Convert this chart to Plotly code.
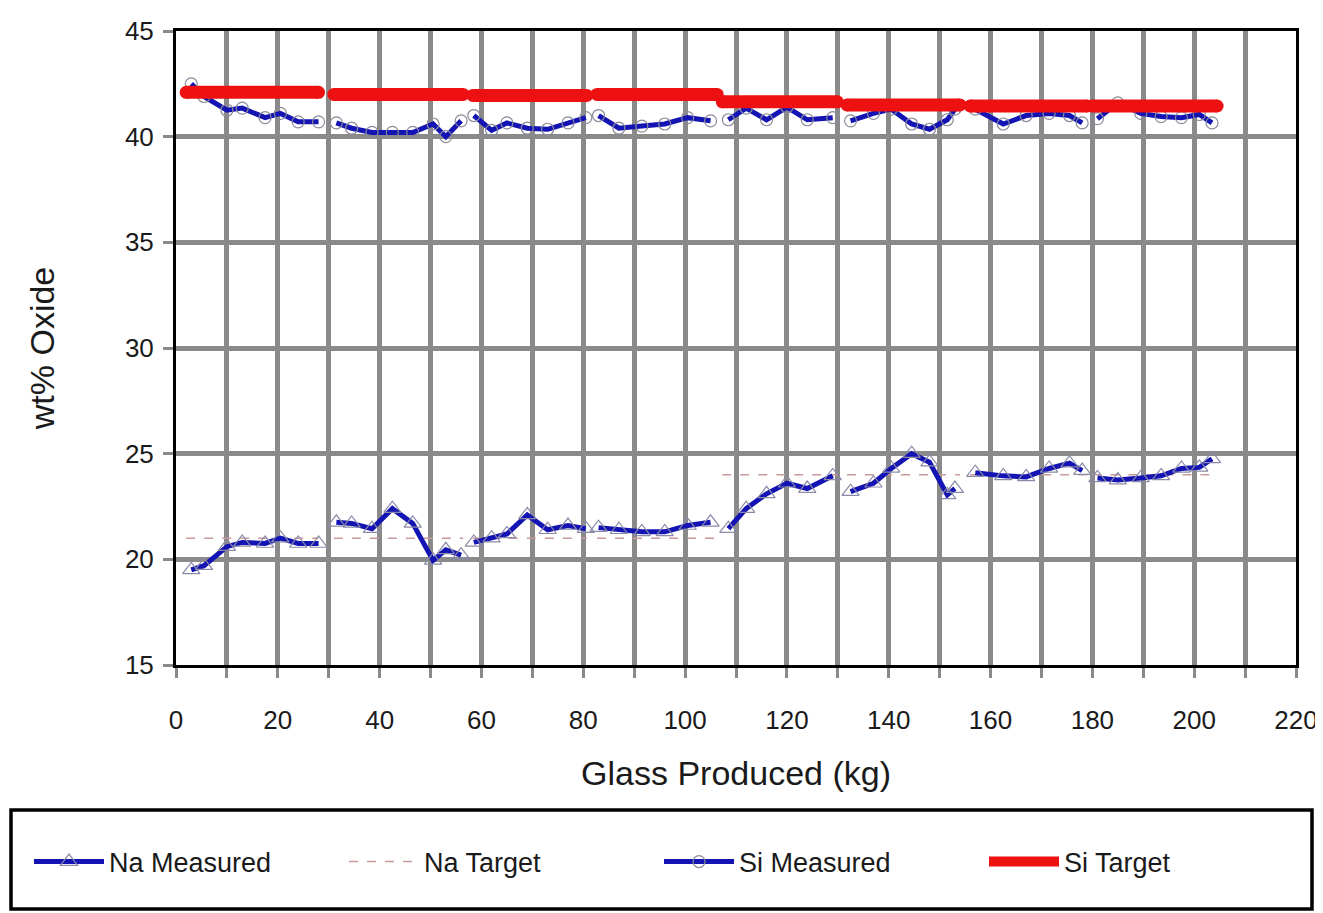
import plotly.graph_objects as go

# Measured data (None separates production batches)
x_kg = [3, 5.5, 10, 13, 17.5, 20.5, 24, 28, None,
        31.5, 34.5, 38.5, 42.5, 46.5, 50.5, 53, 56, None,
        58.5, 62, 65, 69, 73, 77, 80.5, None,
        83, 87, 91.5, 96, 100.5, 105, None,
        108.5, 112, 116, 120, 124, 129, None,
        132.5, 137, 140.5, 144.5, 148, 151.5, 153, None,
        157, 162.5, 167, 171.5, 175.5, 178, None,
        181, 185, 189.5, 193.5, 197.5, 201, 203.5]
si_measured = [42.5, 41.9, 41.25, 41.35, 40.9, 41.1, 40.7, 40.7, None,
               40.65, 40.4, 40.2, 40.2, 40.2, 40.6, 40.0, 40.75, None,
               41.0, 40.3, 40.65, 40.4, 40.35, 40.65, 40.9, None,
               41.0, 40.4, 40.5, 40.6, 40.9, 40.75, None,
               40.8, 41.35, 40.8, 41.4, 40.8, 40.9, None,
               40.75, 41.1, 41.3, 40.6, 40.35, 40.8, 41.3, None,
               41.3, 40.6, 41.0, 41.1, 41.0, 40.65, None,
               40.85, 41.6, 41.1, 40.95, 40.9, 41.05, 40.65]
na_measured = [19.5, 19.7, 20.6, 20.8, 20.75, 21.0, 20.75, 20.75, None,
               21.75, 21.7, 21.45, 22.4, 21.7, 19.95, 20.45, 20.2, None,
               20.8, 21.0, 21.2, 22.1, 21.4, 21.6, 21.45, None,
               21.5, 21.4, 21.3, 21.3, 21.6, 21.75, None,
               21.45, 22.4, 23.1, 23.6, 23.35, 23.95, None,
               23.2, 23.6, 24.3, 25.0, 24.6, 23.05, 23.35, None,
               24.1, 23.95, 23.9, 24.3, 24.55, 24.2, None,
               23.85, 23.75, 23.85, 23.95, 24.3, 24.35, 24.75]

# Targets per batch (start/end of each batch)
target_x = [2, 28, None, 31, 56.4, None, 58.3, 80.7, None, 82.7, 106.3, None,
            107.3, 129.9, None, 131.8, 154, None, 156, 179, None, 180, 204.5]
si_target = [42.1, 42.1, None, 42.0, 42.0, None, 41.95, 41.95, None, 42.0, 42.0, None,
             41.65, 41.65, None, 41.5, 41.5, None, 41.45, 41.45, None, 41.45, 41.45]
na_target = [21.0, 21.0, None, 21.0, 21.0, None, 21.0, 21.0, None, 21.0, 21.0, None,
             24.0, 24.0, None, 24.0, 24.0, None, 24.0, 24.0, None, 24.0, 24.0]

x_ticks = list(range(0, 221, 20))
y_ticks = list(range(15, 46, 5))

BLUE = "#1414b4"
RED = "#ee1111"
GRID = "#8a8a8a"
FONT = "Liberation Sans, Arial, sans-serif"

# page offset from the default 8px body margin
OFF = 8
PL, PR, PT, PB = 176, 1296, 31, 665   # plot area in page pixels
PW, PH = PR - PL, PB - PT


def px_to_paper_x(px):
    return (px - PL) / PW


def px_to_paper_y(py):
    return (PB - py) / PH


fig = go.Figure()
fig.add_trace(go.Scatter(
    x=target_x, y=na_target, mode="lines", name="Na Target", legend="legend2",
    line=dict(color="#c89a9a", width=1.5, dash="dash"), connectgaps=False))
fig.add_trace(go.Scatter(
    x=x_kg, y=na_measured, mode="lines+markers", name="Na Measured", legend="legend",
    line=dict(color=BLUE, width=5),
    marker=dict(symbol="triangle-up-open", size=15, color="#8a8aa8", line=dict(width=1.2)),
    connectgaps=False))
fig.add_trace(go.Scatter(
    x=x_kg, y=si_measured, mode="lines+markers", name="Si Measured", legend="legend3",
    line=dict(color=BLUE, width=5),
    marker=dict(symbol="circle-open", size=12, color="#8a8a9a", line=dict(width=1.2)),
    connectgaps=False))
fig.add_trace(go.Scatter(
    x=target_x, y=si_target, mode="lines", name="Si Target", legend="legend4",
    line=dict(color=RED, width=13), connectgaps=False))
# round caps for the target bars
fig.add_trace(go.Scatter(
    x=target_x, y=si_target, mode="markers", showlegend=False, hoverinfo="skip",
    marker=dict(symbol="circle", size=13, color=RED, line=dict(width=0))))


def legend_at(px):
    return dict(
        orientation="h", x=px_to_paper_x(px), xanchor="left",
        y=px_to_paper_y(862), yanchor="middle",
        font=dict(family=FONT, size=27, color="#1a1a1a"),
        bgcolor="rgba(0,0,0,0)", itemwidth=70,
    )


fig.update_layout(
    width=1323 - OFF, height=913 - OFF,
    margin=dict(l=PL - OFF, r=1323 - PR, t=PT - OFF, b=913 - PB, autoexpand=False),
    paper_bgcolor="white", plot_bgcolor="white",
    font=dict(family=FONT, size=26, color="#1a1a1a"),
    showlegend=True,
    legend=legend_at(29),
    legend2=legend_at(344),
    legend3=legend_at(659),
    legend4=legend_at(984),
    shapes=[dict(type="rect", xref="paper", yref="paper",
                 x0=px_to_paper_x(11), x1=px_to_paper_x(1312),
                 y0=px_to_paper_y(909), y1=px_to_paper_y(810),
                 line=dict(color="black", width=3.5), fillcolor="rgba(0,0,0,0)")],
)

fig.update_xaxes(
    range=[0, 220], tickvals=x_ticks, ticktext=[str(v) for v in x_ticks],
    showgrid=True, gridcolor=GRID, gridwidth=5,
    minor=dict(dtick=10, tick0=0, showgrid=True, gridcolor=GRID, gridwidth=5,
               ticks="outside", ticklen=10, tickcolor=GRID, tickwidth=3),
    ticks="outside", ticklen=10, tickcolor=GRID, tickwidth=3,
    showline=True, linecolor="black", linewidth=3, mirror=True,
    ticklabelstandoff=20, tickfont=dict(size=26), automargin=False,
    title=dict(text="Glass Produced (kg)", font=dict(size=34), standoff=27),
    zeroline=False,
)
fig.update_yaxes(
    range=[15, 45], tickvals=y_ticks, ticktext=[str(v) for v in y_ticks],
    showgrid=True, gridcolor=GRID, gridwidth=5,
    ticks="outside", ticklen=10, tickcolor=GRID, tickwidth=3,
    showline=True, linecolor="black", linewidth=3, mirror=True,
    ticklabelstandoff=4, tickfont=dict(size=26), automargin=False,
    title=dict(text="wt% Oxide", font=dict(size=34), standoff=60),
    zeroline=False,
)

fig.write_html("out.html")
